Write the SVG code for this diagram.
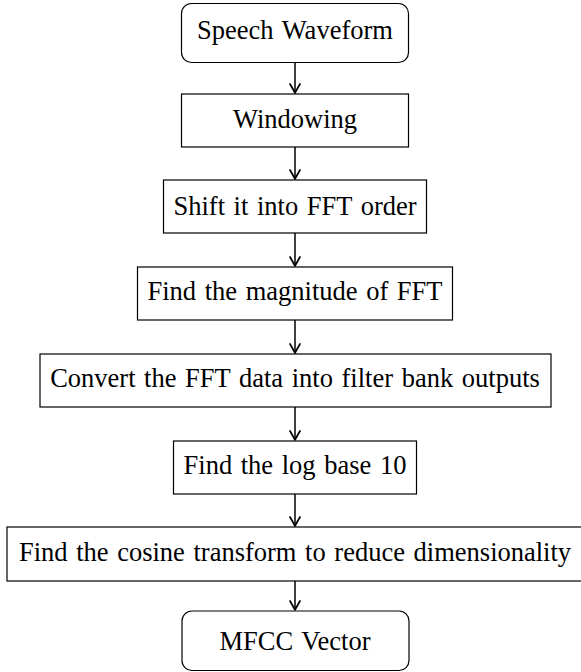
<svg xmlns="http://www.w3.org/2000/svg" width="581" height="672" viewBox="0 0 581 672">
<style>
.box{fill:#fff;stroke:#000;stroke-width:1.2}
.lbl{font-family:"Liberation Serif","Times New Roman",serif;font-size:26.5px;fill:#000;text-anchor:middle;word-spacing:2px}
.edge{fill:none;stroke:#000;stroke-width:1.5}
</style>
<defs>
<marker id="arr" markerUnits="userSpaceOnUse" markerWidth="16" markerHeight="16" viewBox="-10 -8 12 16" refX="0" refY="0" orient="auto" overflow="visible">
<path d="M -9 -5 Q -2.5 -1.2 0 0 Q -2.5 1.2 -9 5" fill="none" stroke="#000" stroke-width="1.7" stroke-linecap="round" stroke-linejoin="round"/>
</marker>
</defs>
<rect width="581" height="672" fill="#fff"/>
<g id="connectors">
<line class="edge" x1="295" y1="63" x2="295" y2="93" marker-end="url(#arr)"/>
<line class="edge" x1="295" y1="147" x2="295" y2="179" marker-end="url(#arr)"/>
<line class="edge" x1="295" y1="233" x2="295" y2="266" marker-end="url(#arr)"/>
<line class="edge" x1="295" y1="320" x2="295" y2="353" marker-end="url(#arr)"/>
<line class="edge" x1="295" y1="407" x2="295" y2="440" marker-end="url(#arr)"/>
<line class="edge" x1="295" y1="494" x2="295" y2="526" marker-end="url(#arr)"/>
<line class="edge" x1="295" y1="581" x2="295" y2="610" marker-end="url(#arr)"/>
</g>
<g id="n1"><rect class="box" x="181.5" y="3.5" width="227" height="59" rx="10"/><text class="lbl" x="295" y="39">Speech Waveform</text></g>
<g id="n2"><rect class="box" x="181.5" y="94" width="227" height="53"/><text class="lbl" x="295" y="127.5">Windowing</text></g>
<g id="n3"><rect class="box" x="163.5" y="180" width="263" height="53"/><text class="lbl" x="295" y="215">Shift it into FFT order</text></g>
<g id="n4"><rect class="box" x="137.5" y="267" width="315" height="53"/><text class="lbl" x="295" y="300">Find the magnitude of FFT</text></g>
<g id="n5"><rect class="box" x="40" y="354" width="511" height="53"/><text class="lbl" x="295" y="387">Convert the FFT data into filter bank outputs</text></g>
<g id="n6"><rect class="box" x="173.5" y="441" width="243" height="53"/><text class="lbl" x="295" y="474">Find the log base 10</text></g>
<g id="n7"><rect class="box" x="7" y="527" width="577" height="54"/><text class="lbl" x="295" y="561" word-spacing="3.3px">Find the cosine transform to reduce dimensionality</text></g>
<g id="n8"><rect class="box" x="182" y="611" width="227" height="59.5" rx="10"/><text class="lbl" x="295" y="650">MFCC Vector</text></g>
</svg>
